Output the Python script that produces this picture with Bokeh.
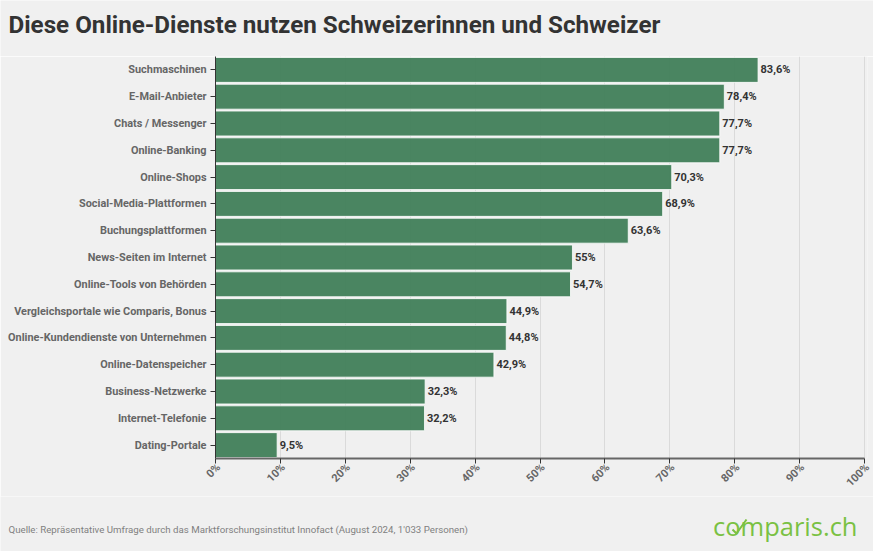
from math import pi
from bokeh.core.properties import value
from bokeh.layouts import column, row
from bokeh.plotting import figure
from bokeh.models import (ColumnDataSource, LabelSet, Label, FixedTicker, CustomJSTickFormatter,
                          LinearAxis, Range1d)
from bokeh.embed import file_html
from bokeh.resources import INLINE

title_text = "Diese Online-Dienste nutzen Schweizerinnen und Schweizer"
source_text = "Quelle: Repräsentative Umfrage durch das Marktforschungsinstitut Innofact (August 2024, 1'033 Personen)"
categories = ["Suchmaschinen", "E-Mail-Anbieter", "Chats / Messenger", "Online-Banking", "Online-Shops",
              "Social-Media-Plattformen", "Buchungsplattformen", "News-Seiten im Internet",
              "Online-Tools von Behörden", "Vergleichsportale wie Comparis, Bonus",
              "Online-Kundendienste von Unternehmen", "Online-Datenspeicher", "Business-Netzwerke",
              "Internet-Telefonie", "Dating-Portale"]
values = [83.6, 78.4, 77.7, 77.7, 70.3, 68.9, 63.6, 55, 54.7, 44.9, 44.8, 42.9, 32.3, 32.2, 9.5]
value_labels = ["83,6%", "78,4%", "77,7%", "77,7%", "70,3%", "68,9%", "63,6%", "55%", "54,7%", "44,9%",
                "44,8%", "42,9%", "32,3%", "32,2%", "9,5%"]
x_ticks = [0, 10, 20, 30, 40, 50, 60, 70, 80, 90, 100]

BG = "#f0f0f0"
GREEN = "#7ac143"
src = ColumnDataSource(dict(cat=categories, val=values, lab=value_labels))

# the frame is 3 px wider than the 0-100 scale so the tick labels can sit 3 px right of their ticks
SHIFT = 3 / 6.49


def banner(height):
    """A plain full-width strip for the texts above and below the chart."""
    b = figure(width=873, height=height, output_backend="svg", toolbar_location=None,
               x_range=(0, 873), y_range=(0, height), x_axis_type=None, y_axis_type=None,
               min_border=0, background_fill_color=BG, border_fill_color=BG, outline_line_color=None)
    b.grid.visible = False
    return b


header = banner(56)
header.add_layout(Label(x=8, y=32, text=title_text, text_font="Roboto", text_font_size="24.2px",
                        text_font_style="bold", text_color="#333333", text_baseline="middle"))

p = figure(width=873, height=439, output_backend="svg", toolbar_location=None,
           y_range=list(reversed(categories)), x_range=(0, 100 + SHIFT),
           frame_width=652, frame_height=402, min_border_left=215, min_border_right=6,
           min_border_top=0, min_border_bottom=37,
           background_fill_color=BG, border_fill_color=BG, outline_line_color=None)

p.hbar(y="cat", right="val", left=0, height=0.93, source=src, fill_color="#44815c", fill_alpha=0.97,
       line_color="#ffffff", line_width=1, line_alpha=0.8)

p.add_layout(LabelSet(x="val", y="cat", text="lab", source=src, x_offset=2.5, text_baseline="middle",
                      text_font=value("Roboto"), text_font_size="11px", text_font_style="bold",
                      text_color="#333333"))

p.ygrid.visible = False
p.xgrid.ticker = FixedTicker(ticks=x_ticks)
p.xgrid.grid_line_color = "#dadada"
p.xgrid.grid_line_width = 1

p.xaxis.ticker = FixedTicker(ticks=x_ticks)
p.xaxis.bounds = (0, 100)
p.xaxis.formatter = CustomJSTickFormatter(code="return ''")
p.xaxis.major_label_text_font_size = "0px"
p.xaxis.major_label_standoff = 0
p.xaxis.axis_line_color = "#666666"
p.xaxis.axis_line_width = 2
p.xaxis.major_tick_line_color = "#333333"
p.xaxis.major_tick_in = 0
p.xaxis.major_tick_out = 5
p.xaxis.minor_tick_line_color = None

p.extra_x_ranges = {"tick_labels": Range1d(-SHIFT, 100)}
label_axis = LinearAxis(x_range_name="tick_labels", ticker=FixedTicker(ticks=x_ticks),
                        formatter=CustomJSTickFormatter(code="return tick + '%'"),
                        axis_line_color=None, major_tick_line_color=None, minor_tick_line_color=None,
                        major_tick_in=0, major_tick_out=0, major_label_standoff=2,
                        major_label_orientation=pi / 4, major_label_text_font="Roboto",
                        major_label_text_font_size="11px", major_label_text_font_style="bold",
                        major_label_text_color="#666666")
p.add_layout(label_axis, "below")

p.yaxis.major_label_text_font = "Roboto"
p.yaxis.major_label_text_font_size = "10.9px"
p.yaxis.major_label_text_font_style = "bold"
p.yaxis.major_label_text_color = "#666666"
p.yaxis.axis_line_color = "#333333"
p.yaxis.axis_line_width = 1
p.yaxis.major_tick_line_color = "#333333"
p.yaxis.major_tick_in = 0
p.yaxis.major_tick_out = 5
p.yaxis.minor_tick_line_color = None
p.yaxis.major_label_standoff = 4

footer = banner(56)
footer.add_layout(Label(x=8, y=23, text=source_text, text_font="Roboto", text_font_size="9.7px",
                        text_color="#808080", text_baseline="middle"))
footer.add_layout(Label(x=857, y=27, text="comparis.ch", text_align="right",
                        text_font="Open Sans", text_font_size="25.5px", text_color=GREEN, text_baseline="middle"))
# the tick through the "o" of the logo
footer.line([732, 736, 746], [23, 19, 33], line_color=GREEN, line_width=2)

open("out.html", "w").write(file_html(column(row(header), p, row(footer), spacing=0), INLINE))
